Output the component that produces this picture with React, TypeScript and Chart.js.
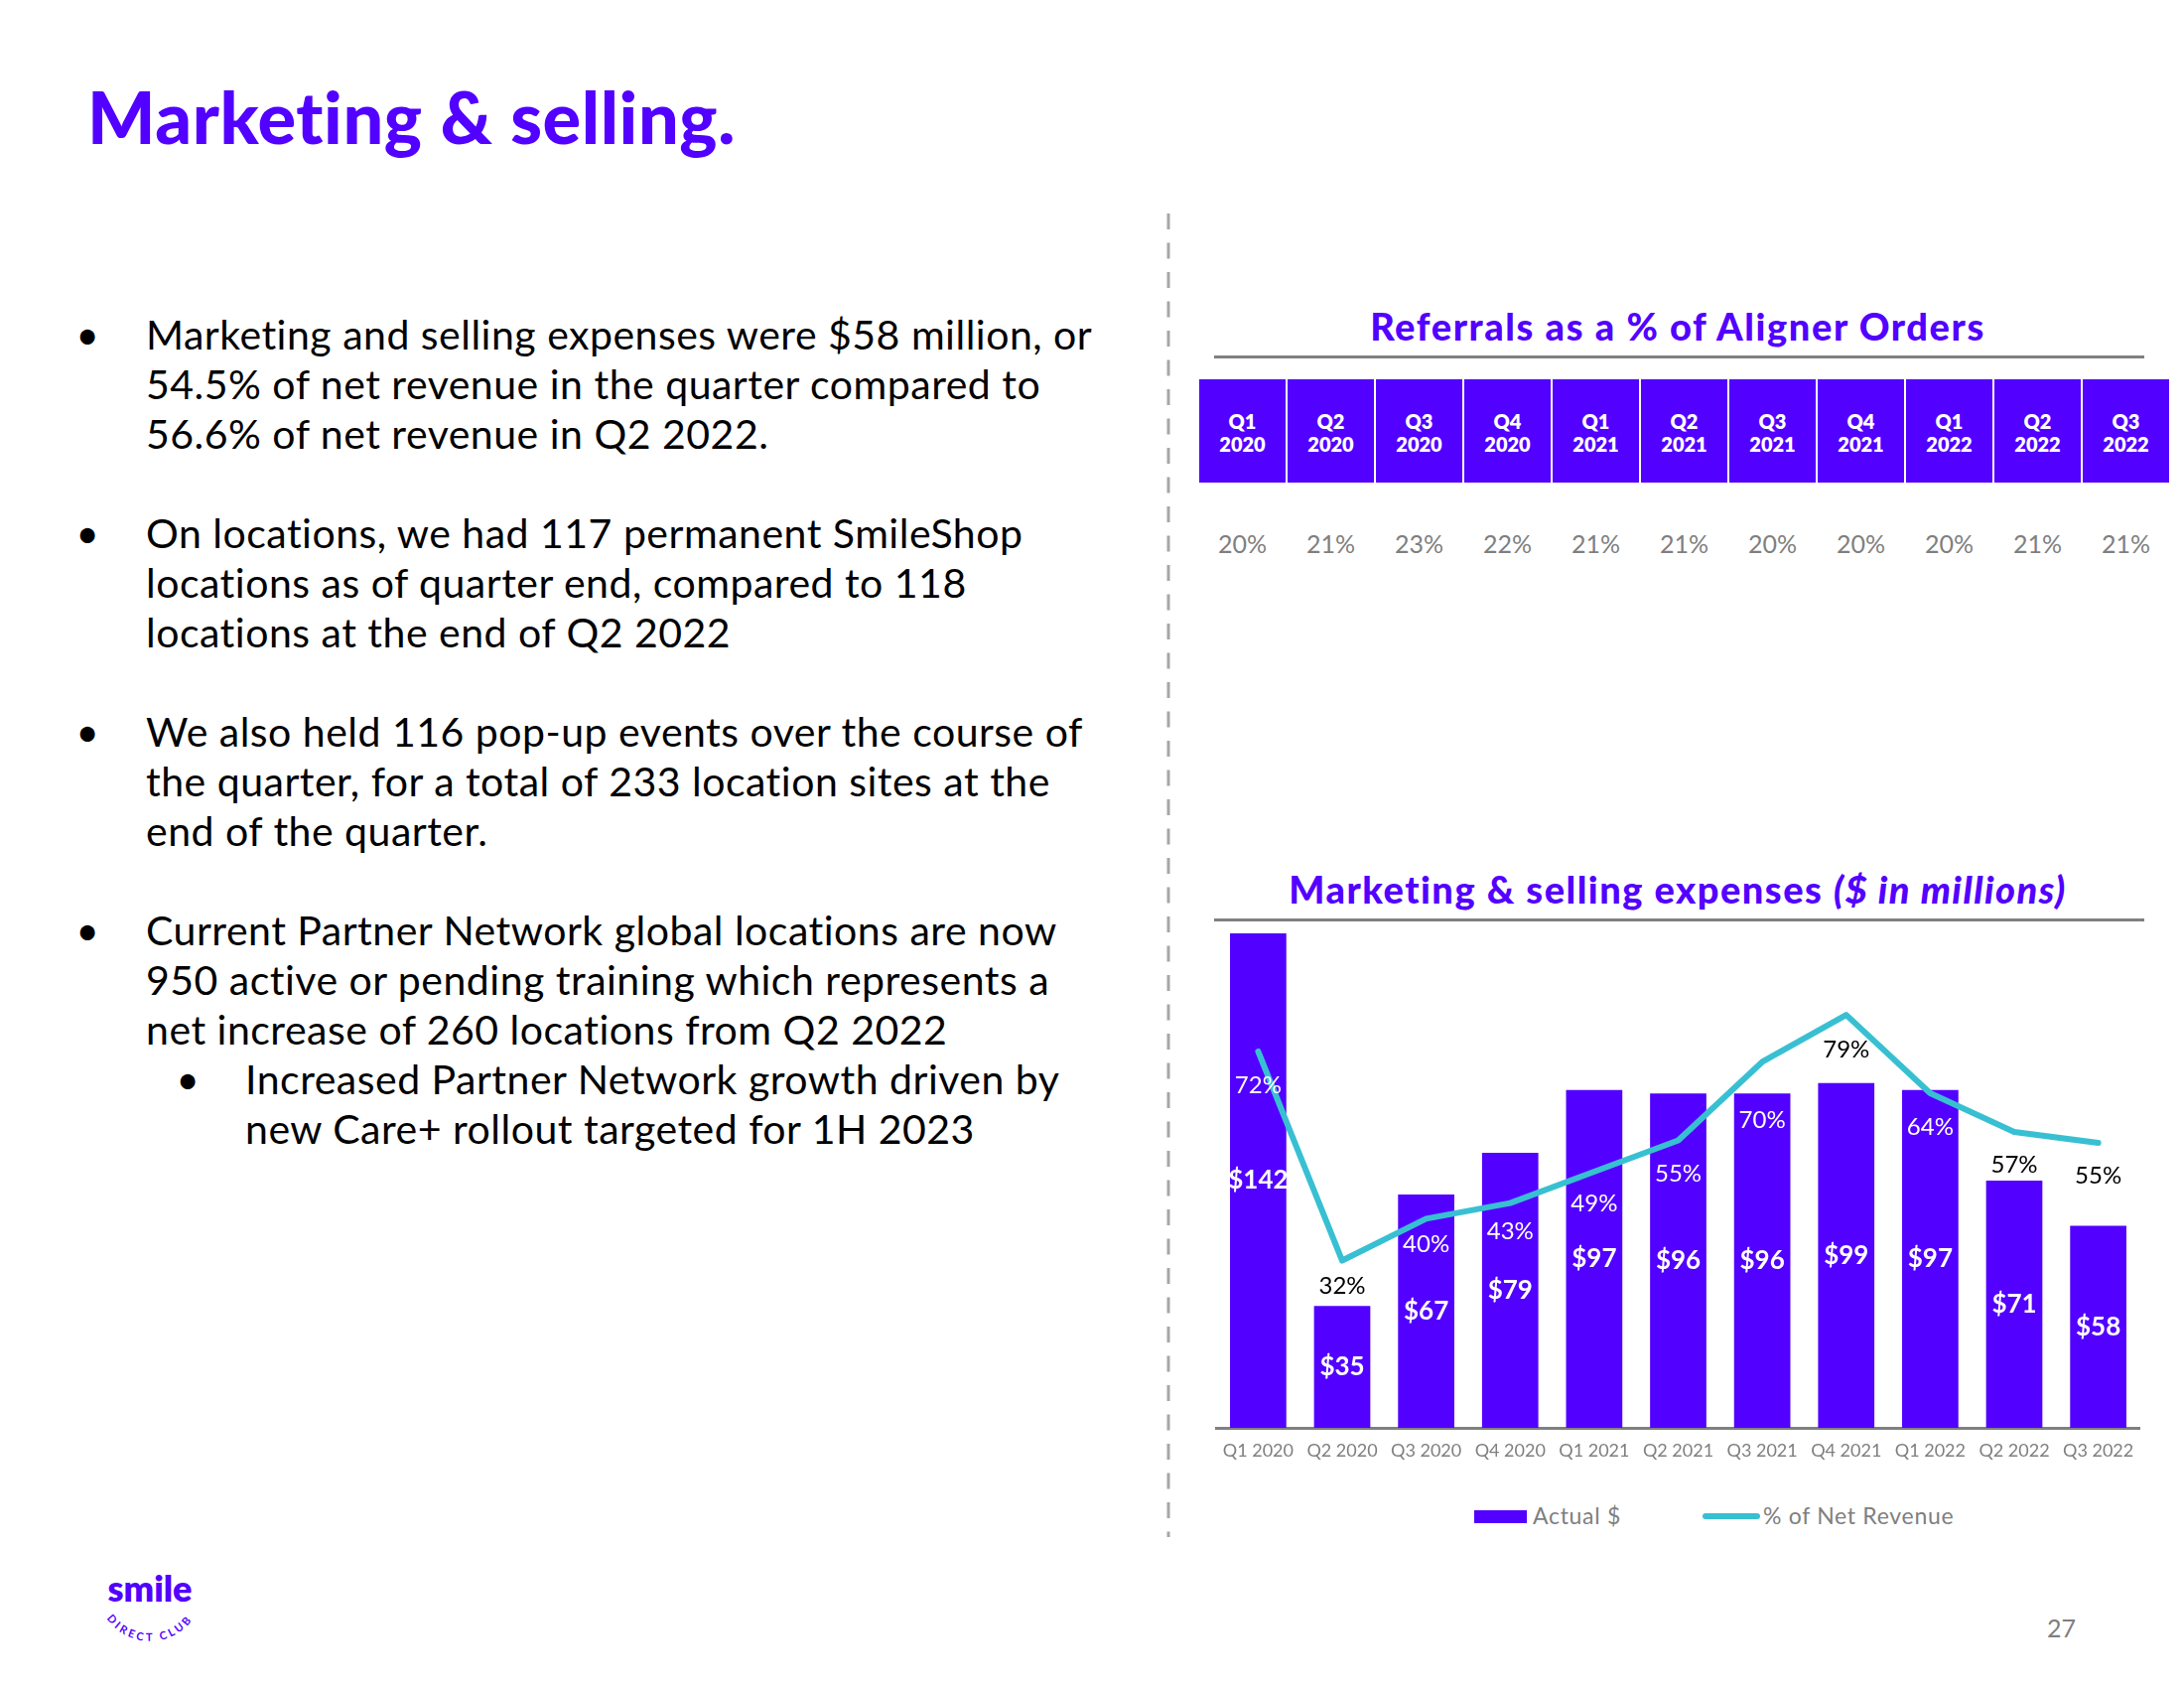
import React, { useEffect, useRef } from "react";
import { Chart, registerables } from "chart.js";

Chart.register(...registerables);

// ---------- data ----------
const quarters = [
  "Q1 2020", "Q2 2020", "Q3 2020", "Q4 2020",
  "Q1 2021", "Q2 2021", "Q3 2021", "Q4 2021",
  "Q1 2022", "Q2 2022", "Q3 2022",
];
const spendMillions = [142, 35, 67, 79, 97, 96, 96, 99, 97, 71, 58];
const pctNetRevenue = [72, 32, 40, 43, 49, 55, 70, 79, 64, 56.6, 54.5];
const referralPct = [20, 21, 23, 22, 21, 21, 20, 20, 20, 21, 21];

// label placement (style config, pixels below each line point)
const pctLabelDy = [34, 26, 26, 29, 32, 34, 59, 35, 34, 33, 33];

const bulletLines: { row: number; level: number; bullet: boolean; text: string }[] = [
  { row: 0, level: 0, bullet: true, text: "Marketing and selling expenses were $58 million, or" },
  { row: 1, level: 0, bullet: false, text: "54.5% of net revenue in the quarter compared to" },
  { row: 2, level: 0, bullet: false, text: "56.6% of net revenue in Q2 2022." },
  { row: 4, level: 0, bullet: true, text: "On locations, we had 117 permanent SmileShop" },
  { row: 5, level: 0, bullet: false, text: "locations as of quarter end, compared to 118" },
  { row: 6, level: 0, bullet: false, text: "locations at the end of Q2 2022" },
  { row: 8, level: 0, bullet: true, text: "We also held 116 pop-up events over the course of" },
  { row: 9, level: 0, bullet: false, text: "the quarter, for a total of 233 location sites at the" },
  { row: 10, level: 0, bullet: false, text: "end of the quarter." },
  { row: 12, level: 0, bullet: true, text: "Current Partner Network global locations are now" },
  { row: 13, level: 0, bullet: false, text: "950 active or pending training which represents a" },
  { row: 14, level: 0, bullet: false, text: "net increase of 260 locations from Q2 2022" },
  { row: 15, level: 1, bullet: true, text: "Increased Partner Network growth driven by" },
  { row: 16, level: 1, bullet: false, text: "new Care+ rollout targeted for 1H 2023" },
];

// ---------- style ----------
const PURPLE = "#5200FF";
const TEAL = "#38C0D2";
const GRAY = "#7f7f7f";
const FONT = "Lato, 'Open Sans', sans-serif";

type TProps = {
  x: number;
  baseline: number;
  size: number;
  weight?: number;
  color?: string;
  align?: "left" | "center";
  italic?: boolean;
  spacing?: number;
  children: React.ReactNode;
};

function T({ x, baseline, size, weight = 400, color = "#000", align = "left", italic, spacing, children }: TProps) {
  return (
    <div
      style={{
        position: "absolute",
        left: x,
        top: baseline - 0.887 * size,
        fontSize: size,
        lineHeight: `${size}px`,
        fontWeight: weight,
        fontStyle: italic ? "italic" : "normal",
        color,
        whiteSpace: "nowrap",
        letterSpacing: spacing,
        transform: align === "center" ? "translateX(-50%)" : undefined,
        fontFamily: FONT,
      }}
    >
      {children}
    </div>
  );
}

const labelPlugin = {
  id: "valueLabels",
  afterDatasetsDraw(chart: any) {
    const ctx = chart.ctx as CanvasRenderingContext2D;
    const barMeta = chart.getDatasetMeta(0);
    const lineMeta = chart.getDatasetMeta(1);
    ctx.save();
    ctx.textAlign = "center";
    ctx.textBaseline = "middle";
    ctx.font = `700 26px ${FONT}`;
    ctx.fillStyle = "#ffffff";
    barMeta.data.forEach((el: any, i: number) => {
      const p = el.getProps(["x", "y", "base"], true);
      ctx.fillText(`$${spendMillions[i]}`, p.x, (p.y + p.base) / 2);
    });
    ctx.font = `400 24px ${FONT}`;
    lineMeta.data.forEach((pt: any, i: number) => {
      const ly = pt.y + pctLabelDy[i];
      const barTop = barMeta.data[i].y;
      ctx.fillStyle = ly > barTop ? "#ffffff" : "#000000";
      ctx.fillText(`${Math.round(pctNetRevenue[i])}%`, pt.x, ly);
    });
    ctx.restore();
  },
};

function ExpenseChart() {
  const ref = useRef<HTMLCanvasElement | null>(null);
  useEffect(() => {
    if (!ref.current) return;
    const chart = new Chart(ref.current, {
      type: "bar",
      data: {
        labels: quarters,
        datasets: [
          {
            type: "bar",
            label: "Actual $",
            data: spendMillions,
            backgroundColor: PURPLE,
            yAxisID: "y",
            order: 2,
            barPercentage: 0.67,
            categoryPercentage: 1,
          } as any,
          {
            type: "line",
            label: "% of Net Revenue",
            data: pctNetRevenue,
            borderColor: TEAL,
            backgroundColor: TEAL,
            borderWidth: 6,
            pointRadius: 0,
            tension: 0,
            yAxisID: "y1",
            order: 1,
            borderCapStyle: "round",
            borderJoinStyle: "round",
            clip: false,
          } as any,
        ],
      },
      options: {
        responsive: false,
        animation: false,
        layout: { padding: 0, autoPadding: false },
        plugins: { legend: { display: false }, tooltip: { enabled: false } },
        scales: {
          x: {
            grid: { display: false, drawTicks: false },
            border: { display: true, color: "#808080", width: 3 },
            ticks: {
              color: GRAY,
              font: { family: FONT, size: 18 },
              padding: 12,
              maxRotation: 0,
              autoSkip: false,
            },
            afterFit: (s: any) => {
              s.height = 60;
            },
          },
          y: { display: false, min: 0, max: 145.4 },
          y1: { display: false, min: 0, max: 96.87, position: "right" },
        },
      } as any,
      plugins: [labelPlugin],
    });
    return () => chart.destroy();
  }, []);
  // Chart.js insets a horizontal axis by 3px per side; canvas widened to compensate
  return (
    <canvas
      ref={ref}
      width={941}
      height={570}
      style={{ position: "absolute", left: 1220, top: 928, width: 941, height: 570 }}
    />
  );
}

export default function App() {
  const boxLeft = 1208;
  const boxPitch = 89;
  const boxW = 87;
  return (
    <div
      style={{
        position: "absolute",
        left: 0,
        top: 0,
        width: 2200,
        height: 1700,
        background: "#ffffff",
        overflow: "hidden",
        fontFamily: FONT,
      }}
    >
      {/* Title */}
      <T x={88} baseline={145} size={72} weight={900} color={PURPLE} spacing={0.6}>
        Marketing &amp; selling.
      </T>

      {/* Bullets */}
      {bulletLines.map((l, i) => {
        const baseline = 352 + l.row * 50;
        const textX = l.level === 0 ? 147 : 247;
        const bulletX = l.level === 0 ? 88 : 189;
        return (
          <React.Fragment key={i}>
            {l.bullet && (
              <T x={bulletX} baseline={baseline} size={40} align="center">
                •
              </T>
            )}
            <T x={textX} baseline={baseline} size={41} spacing={0.5}>
              {l.text}
            </T>
          </React.Fragment>
        );
      })}

      {/* SVG overlay: divider + logo */}
      <svg
        width={2200}
        height={1700}
        style={{ position: "absolute", left: 0, top: 0, pointerEvents: "none" }}
      >
        <line x1={1177} y1={215} x2={1177} y2={1548} stroke="#a6a6a6" strokeWidth={3} strokeDasharray="16 13.5" />
        <text x={151} y={1613} textAnchor="middle" fontFamily={FONT} fontWeight={800} fontSize={36} fill={PURPLE}>
          smile
        </text>
        <path id="logoArc" d="M 102 1620 A 53 53 0 0 0 200 1620" fill="none" />
        <text fontFamily={FONT} fontWeight={700} fontSize={11} letterSpacing={3} fill={PURPLE}>
          <textPath href="#logoArc" startOffset="50%" textAnchor="middle">
            DIRECT CLUB
          </textPath>
        </text>
      </svg>

      {/* Referrals table */}
      <T x={1690} baseline={343} size={38} weight={900} color={PURPLE} align="center" spacing={1.6}>
        Referrals as a % of Aligner Orders
      </T>
      <div style={{ position: "absolute", left: 1223, top: 358, width: 937, height: 3, background: "#808080" }} />
      {quarters.map((q, i) => {
        const [qq, yy] = q.split(" ");
        const left = boxLeft + i * boxPitch;
        const cx = left + boxW / 2;
        return (
          <React.Fragment key={q}>
            <div style={{ position: "absolute", left, top: 382, width: boxW, height: 104, background: PURPLE }} />
            <T x={cx} baseline={432} size={20} weight={800} color="#ffffff" align="center">
              {qq}
            </T>
            <T x={cx} baseline={455} size={20} weight={800} color="#ffffff" align="center">
              {yy}
            </T>
            <T x={cx} baseline={557} size={25} color={GRAY} align="center">
              {referralPct[i]}%
            </T>
          </React.Fragment>
        );
      })}

      {/* Expense chart */}
      <T x={1690} baseline={910} size={38} weight={900} color={PURPLE} align="center" spacing={1.5}>
        Marketing &amp; selling expenses <i>($ in millions)</i>
      </T>
      <div style={{ position: "absolute", left: 1223, top: 925, width: 937, height: 3, background: "#808080" }} />
      <ExpenseChart />

      {/* Legend */}
      <div style={{ position: "absolute", left: 1485, top: 1521, width: 53, height: 13, background: PURPLE }} />
      <T x={1544} baseline={1535} size={23} color={GRAY} spacing={0.7}>
        Actual $
      </T>
      <div style={{ position: "absolute", left: 1715, top: 1524, width: 58, height: 6, borderRadius: 3, background: TEAL }} />
      <T x={1776} baseline={1535} size={23} color={GRAY} spacing={0.7}>
        % of Net Revenue
      </T>

      {/* Page number */}
      <T x={2062} baseline={1649} size={25} color={GRAY}>
        27
      </T>
    </div>
  );
}
